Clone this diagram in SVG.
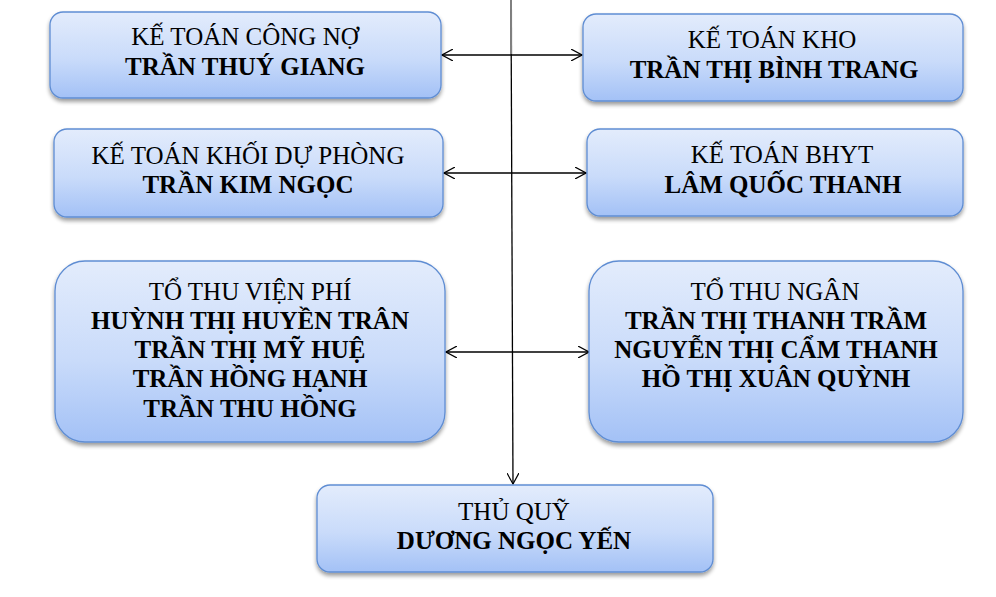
<svg xmlns="http://www.w3.org/2000/svg" width="996" height="597" viewBox="0 0 996 597">
<defs>
<linearGradient id="g" x1="0" y1="0" x2="0" y2="1">
<stop offset="0" stop-color="#e3ecfc"/>
<stop offset="0.55" stop-color="#c9dbfa"/>
<stop offset="1" stop-color="#a3c1f6"/>
</linearGradient>
<filter id="sh" x="-5%" y="-5%" width="110%" height="120%">
<feGaussianBlur in="SourceAlpha" stdDeviation="2"/>
<feOffset dx="0" dy="3" result="b"/>
<feComponentTransfer><feFuncA type="linear" slope="0.4"/></feComponentTransfer>
<feMerge><feMergeNode/><feMergeNode in="SourceGraphic"/></feMerge>
</filter>
<marker id="ah" viewBox="0 0 12 12" refX="11" refY="6" markerWidth="12" markerHeight="12" markerUnits="userSpaceOnUse" orient="auto-start-reverse">
<path d="M0,0 L11,6 L0,12" fill="none" stroke="#000" stroke-width="1.2"/>
</marker>
</defs>
<style>
.box{fill:url(#g);stroke:#5f8dd3;stroke-width:1.3;filter:url(#sh)}
text{font-family:"Liberation Serif","Times New Roman",serif;font-size:25px;fill:#000;text-anchor:middle}
.b{font-weight:bold}
.c{stroke:#000;stroke-width:1.3;fill:none}
</style>
<rect width="996" height="597" fill="#fff"/>
<g id="connectors">
<line class="c" x1="511" y1="0" x2="513" y2="484" marker-end="url(#ah)"/>
<line x1="511" y1="0" x2="511.2" y2="54" stroke="#808080" stroke-width="2"/>
<line class="c" x1="442" y1="55" x2="582" y2="55" marker-start="url(#ah)" marker-end="url(#ah)"/>
<line class="c" x1="444" y1="173" x2="586" y2="173" marker-start="url(#ah)" marker-end="url(#ah)"/>
<line class="c" x1="446" y1="352" x2="589" y2="352" marker-start="url(#ah)" marker-end="url(#ah)"/>
</g>
<g id="n1">
<rect class="box" x="50" y="12" width="391" height="86" rx="13"/>
<text x="245" y="45">KẾ TOÁN CÔNG NỢ</text>
<text class="b" x="245" y="75">TRẦN THUÝ GIANG</text>
</g>
<g id="n2">
<rect class="box" x="583" y="14" width="380" height="87" rx="13"/>
<text x="772" y="48">KẾ TOÁN KHO</text>
<text class="b" x="774" y="78">TRẦN THỊ BÌNH TRANG</text>
</g>
<g id="n3">
<rect class="box" x="54" y="129" width="389" height="88" rx="13"/>
<text x="248" y="164">KẾ TOÁN KHỐI DỰ PHÒNG</text>
<text class="b" x="248" y="193">TRẦN KIM NGỌC</text>
</g>
<g id="n4">
<rect class="box" x="587" y="129" width="376" height="87" rx="13"/>
<text x="782" y="163">KẾ TOÁN BHYT</text>
<text class="b" x="783" y="193">LÂM QUỐC THANH</text>
</g>
<g id="n5">
<rect class="box" x="55" y="261" width="390" height="181" rx="30"/>
<text x="250" y="300">TỔ THU VIỆN PHÍ</text>
<text class="b" x="250" y="329">HUỲNH THỊ HUYỀN TRÂN</text>
<text class="b" x="250" y="358">TRẦN THỊ MỸ HUỆ</text>
<text class="b" x="250" y="387">TRẦN HỒNG HẠNH</text>
<text class="b" x="250" y="417">TRẦN THU HỒNG</text>
</g>
<g id="n6">
<rect class="box" x="589" y="261" width="374" height="181" rx="30"/>
<text x="775" y="300">TỔ THU NGÂN</text>
<text class="b" x="776" y="329">TRẦN THỊ THANH TRẦM</text>
<text class="b" x="776" y="358">NGUYỄN THỊ CẨM THANH</text>
<text class="b" x="776" y="387">HỒ THỊ XUÂN QUỲNH</text>
</g>
<g id="n7">
<rect class="box" x="317" y="485" width="396" height="87" rx="13"/>
<text x="514" y="520">THỦ QUỸ</text>
<text class="b" x="514" y="549">DƯƠNG NGỌC YẾN</text>
</g>
</svg>
